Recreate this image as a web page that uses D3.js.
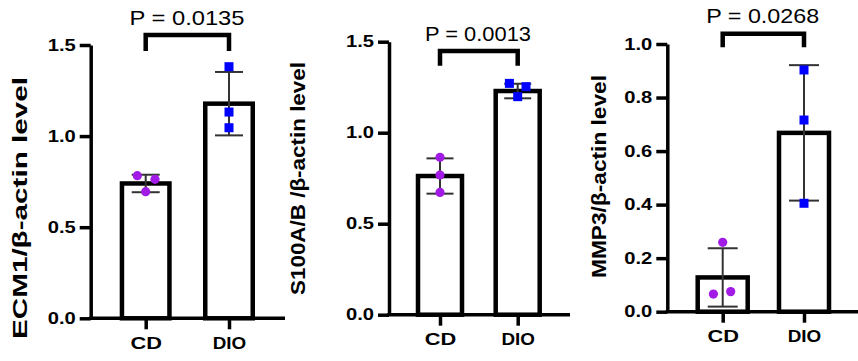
<!DOCTYPE html>
<html>
<head>
<meta charset="utf-8">
<script src="https://cdn.jsdelivr.net/npm/d3@7"></script>
<style>
  html, body { margin: 0; padding: 0; background: #fff; }
  svg { display: block; }
  text { font-family: Arial, "Liberation Sans", Helvetica, sans-serif; }
</style>
</head>
<body>
<svg id="chart" width="858" height="361"></svg>
<script>
// ---- data ----
const groups = ["CD", "DIO"];

const ecm1Label = "ECM1/β-actin  level";
const ecm1Means = [0.740, 1.178];
const ecm1SD = [0.048, 0.174];
const ecm1CD = [0.783, 0.763, 0.695];
const ecm1DIO = [1.381, 1.132, 1.046];
const ecm1P = "P = 0.0135";
const ecm1Ticks = [0, 0.5, 1.0, 1.5];

const s100Label = "S100A/B /β-actin level";
const s100Means = [0.762, 1.229];
const s100SD = [0.097, 0.040];
const s100CD = [0.865, 0.767, 0.672];
const s100DIO = [1.271, 1.253, 1.198];
const s100P = "P = 0.0013";
const s100Ticks = [0, 0.5, 1.0, 1.5];

const mmp3Label = "MMP3/β-actin  level";
const mmp3Means = [0.128, 0.668];
const mmp3SD = [0.109, 0.253];
const mmp3CD = [0.259, 0.066, 0.075];
const mmp3DIO = [0.903, 0.716, 0.405];
const mmp3P = "P = 0.0268";
const mmp3Ticks = [0, 0.2, 0.4, 0.6, 0.8, 1.0];

// ---- layout (pixels) ----
const panels = [
  { label: ecm1Label, means: ecm1Means, sd: ecm1SD, pts: [ecm1CD, ecm1DIO], p: ecm1P, ticks: ecm1Ticks,
    axisX: 90.7, xEnd: 285, yBottom: 318.3, yTop: 45, cx: [145.7, 229], barW: 47.5, capW: 28,
    jitter: [[-8.4, 9.3, 0], [0, 0, 0]],
    labelX: 26.5, labelY: 208, labelLen: 262,
    pX: 187, pY: 25, pLen: 115, brY: 35, brLeg: 51 },
  { label: s100Label, means: s100Means, sd: s100SD, pts: [s100CD, s100DIO], p: s100P, ticks: s100Ticks,
    axisX: 389, xEnd: 570, yBottom: 314.7, yTop: 41.7, cx: [440, 517.7], barW: 44, capW: 27,
    jitter: [[0, 0, 0], [-8.3, 8.3, 0]],
    labelX: 305, labelY: 178.5, labelLen: 233,
    pX: 478, pY: 40.7, pLen: 106, brY: 51, brLeg: 65.7 },
  { label: mmp3Label, means: mmp3Means, sd: mmp3SD, pts: [mmp3CD, mmp3DIO], p: mmp3P, ticks: mmp3Ticks,
    axisX: 667.3, xEnd: 858, yBottom: 311.7, yTop: 44, cx: [722.7, 804], barW: 50, capW: 30,
    jitter: [[0, -9.3, 8], [0, 0, 0]],
    labelX: 606, labelY: 176.5, labelLen: 203,
    pX: 762.7, pY: 23.3, pLen: 113, brY: 33.7, brLeg: 47.3 }
];
const xLabelLen = { CD: 31.5, DIO: 33.5 };

const colors = ["#a21ae6", "#0000ff"];
const svg = d3.select("#chart");

panels.forEach(P => {
  const g = svg.append("g");
  const maxT = d3.max(P.ticks);
  const y = d3.scaleLinear().domain([0, maxT]).range([P.yBottom, P.yTop]);
  const x = d3.scalePoint().domain(groups).range(P.cx);

  // bars
  g.selectAll("rect.bar").data(groups).enter().append("rect")
    .attr("x", d => x(d) - P.barW / 2)
    .attr("y", (d, i) => y(P.means[i]))
    .attr("width", P.barW)
    .attr("height", (d, i) => y(0) - y(P.means[i]))
    .attr("fill", "#fff").attr("stroke", "#000").attr("stroke-width", 4.5);

  // error bars
  groups.forEach((gname, i) => {
    const cx = x(gname);
    const hi = y(P.means[i] + P.sd[i]);
    const lo = y(Math.max(0, P.means[i] - P.sd[i]));
    g.append("line").attr("x1", cx).attr("x2", cx).attr("y1", hi).attr("y2", lo)
      .attr("stroke", "#333").attr("stroke-width", 2);
    [hi, lo].forEach(yy => {
      g.append("line").attr("x1", cx - P.capW / 2).attr("x2", cx + P.capW / 2)
        .attr("y1", yy).attr("y2", yy).attr("stroke", "#333").attr("stroke-width", 2);
    });
  });

  // points
  P.pts[0].forEach((v, j) => {
    g.append("circle").attr("cx", x(groups[0]) + P.jitter[0][j]).attr("cy", y(v))
      .attr("r", 4.6).attr("fill", colors[0]);
  });
  P.pts[1].forEach((v, j) => {
    const s = 9;
    g.append("rect").attr("x", x(groups[1]) + P.jitter[1][j] - s / 2).attr("y", y(v) - s / 2)
      .attr("width", s).attr("height", s).attr("fill", colors[1]);
  });

  // y axis
  const yAxis = d3.axisLeft(y).tickValues(P.ticks).tickFormat(d3.format(".1f"))
    .tickSize(11).tickSizeOuter(0).tickPadding(4);
  const ya = g.append("g").attr("transform", `translate(${P.axisX},0)`).call(yAxis);
  ya.select(".domain").attr("stroke", "#000").attr("stroke-width", 3.5);
  ya.selectAll(".tick line").attr("stroke", "#000").attr("stroke-width", 3.5);
  ya.selectAll(".tick text").attr("fill", "#000")
    .attr("textLength", 28).attr("lengthAdjust", "spacingAndGlyphs")
    .style("font-size", "16.5px").style("font-weight", "bold");

  // x axis
  g.append("line").attr("x1", P.axisX - 1.75).attr("x2", P.xEnd)
    .attr("y1", P.yBottom).attr("y2", P.yBottom)
    .attr("stroke", "#000").attr("stroke-width", 3.5);
  const xAxis = d3.axisBottom(x).tickSize(11).tickSizeOuter(0).tickPadding(8);
  const xa = g.append("g").attr("transform", `translate(0,${P.yBottom})`).call(xAxis);
  xa.select(".domain").remove();
  xa.selectAll(".tick line").attr("stroke", "#000").attr("stroke-width", 3.5);
  xa.selectAll(".tick text").attr("fill", "#000")
    .attr("textLength", d => xLabelLen[d]).attr("lengthAdjust", "spacingAndGlyphs")
    .style("font-size", "16.5px").style("font-weight", "bold");

  // y label
  g.append("text")
    .attr("transform", `translate(${P.labelX},${P.labelY}) rotate(-90)`)
    .attr("text-anchor", "middle")
    .attr("textLength", P.labelLen).attr("lengthAdjust", "spacingAndGlyphs")
    .style("font-size", "21px").style("font-weight", "bold")
    .text(P.label);

  // significance bracket
  g.append("path")
    .attr("d", `M${P.cx[0]},${P.brLeg}V${P.brY}H${P.cx[1]}V${P.brLeg}`)
    .attr("fill", "none").attr("stroke", "#000").attr("stroke-width", 4.5);
  g.append("text").attr("x", P.pX).attr("y", P.pY).attr("text-anchor", "middle")
    .attr("textLength", P.pLen).attr("lengthAdjust", "spacingAndGlyphs")
    .style("font-size", "21px")
    .text(P.p);
});
</script>
</body>
</html>
